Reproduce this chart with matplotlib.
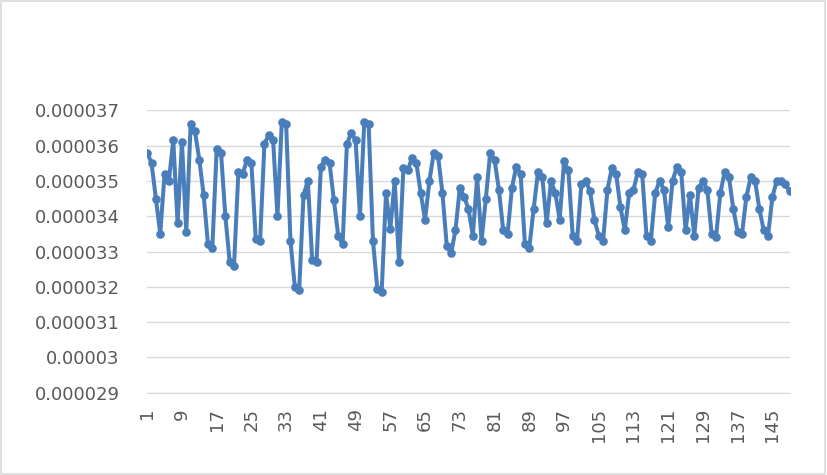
import matplotlib.pyplot as plt
from matplotlib.patches import Rectangle

# values in units of 1e-6
values_a = [35.8, 35.5, 34.5, 33.5, 35.2, 35.0, 36.15, 33.8, 36.1, 33.55,
            36.6, 36.4, 35.6, 34.6, 33.2, 33.1, 35.9, 35.8, 34.0, 32.7,
            32.6, 35.25, 35.2, 35.6, 35.5, 33.35, 33.3, 36.05, 36.3, 36.15,
            34.0, 36.67, 36.6, 33.3, 32.0, 31.9]
values_b = [34.6, 35.0, 32.75, 32.7, 35.4, 35.6, 35.5, 34.45,
            33.45, 33.2, 36.05, 36.35, 36.15, 34.0, 36.67, 36.6,
            33.3, 31.95, 31.85, 34.65, 33.65, 35.0, 32.7, 35.35,
            35.3, 35.65, 35.5, 34.65, 33.9, 35.0, 35.8, 35.7,
            34.65, 33.15, 32.95, 33.6, 34.8]
values_c = [34.55, 34.2, 33.45, 35.1, 33.3, 34.5,
            35.8, 35.6, 34.75, 33.6, 33.5, 34.8, 35.4, 35.2, 33.2, 33.1,
            34.2, 35.25, 35.1, 33.8, 35.0, 34.65, 33.9, 35.55, 35.3, 33.45,
            33.3, 34.9, 35.0, 34.7, 33.9, 33.45, 33.3, 34.75, 35.35, 35.2,
            34.25, 33.6]
values_d = [34.65, 34.75, 35.25, 35.2, 33.45, 33.3, 34.65, 35.0, 34.75, 33.7,
            35.0, 35.4, 35.25, 33.6, 34.6, 33.45, 34.8, 35.0, 34.75, 33.5,
            33.4, 34.65, 35.25, 35.1, 34.2, 33.55, 33.5, 34.55, 35.1, 35.0,
            34.2, 33.6, 33.45, 34.55, 35.0, 35.0, 34.9, 34.7]

y_vals = [v * 1e-6 for v in values_a + values_b + values_c + values_d]
x_vals = list(range(1, len(y_vals) + 1))

y_ticks = [29e-6, 30e-6, 31e-6, 32e-6, 33e-6, 34e-6, 35e-6, 36e-6, 37e-6]
y_labels = ["0.000029", "0.00003", "0.000031", "0.000032", "0.000033",
            "0.000034", "0.000035", "0.000036", "0.000037"]
x_ticks = list(range(1, len(y_vals) + 1, 8))

plt.rcParams['font.family'] = ['DejaVu Sans']

fig = plt.figure(figsize=(8.27, 4.75), dpi=100)
fig.patches.append(Rectangle((0.001, 0.002), 0.997, 0.995, transform=fig.transFigure,
                             fill=False, edgecolor="#d9d9d9", linewidth=1.2))
ax = fig.add_axes([0.178, 0.173, 0.777, 0.595])

ax.plot(x_vals, y_vals, color="#4a7ebb", linewidth=2.9, marker="o",
        markersize=6.2, markeredgewidth=0, solid_joinstyle="round")

ax.set_ylim(29e-6, 37e-6)
ax.set_xlim(1, len(y_vals))
ax.set_yticks(y_ticks)
ax.set_yticklabels(y_labels)
ax.set_xticks(x_ticks)
ax.set_xticklabels([str(t) for t in x_ticks], rotation=90)
ax.tick_params(axis="both", length=0, labelsize=13, labelcolor="#595959")
ax.tick_params(axis="y", pad=20)
ax.tick_params(axis="x", pad=11)

ax.grid(axis="y", color="#d9d9d9", linewidth=1)
ax.set_axisbelow(True)
for side in ["top", "right", "left"]:
    ax.spines[side].set_visible(False)
ax.spines["bottom"].set_color("#d9d9d9")

fig.savefig("out.png", dpi=100)
